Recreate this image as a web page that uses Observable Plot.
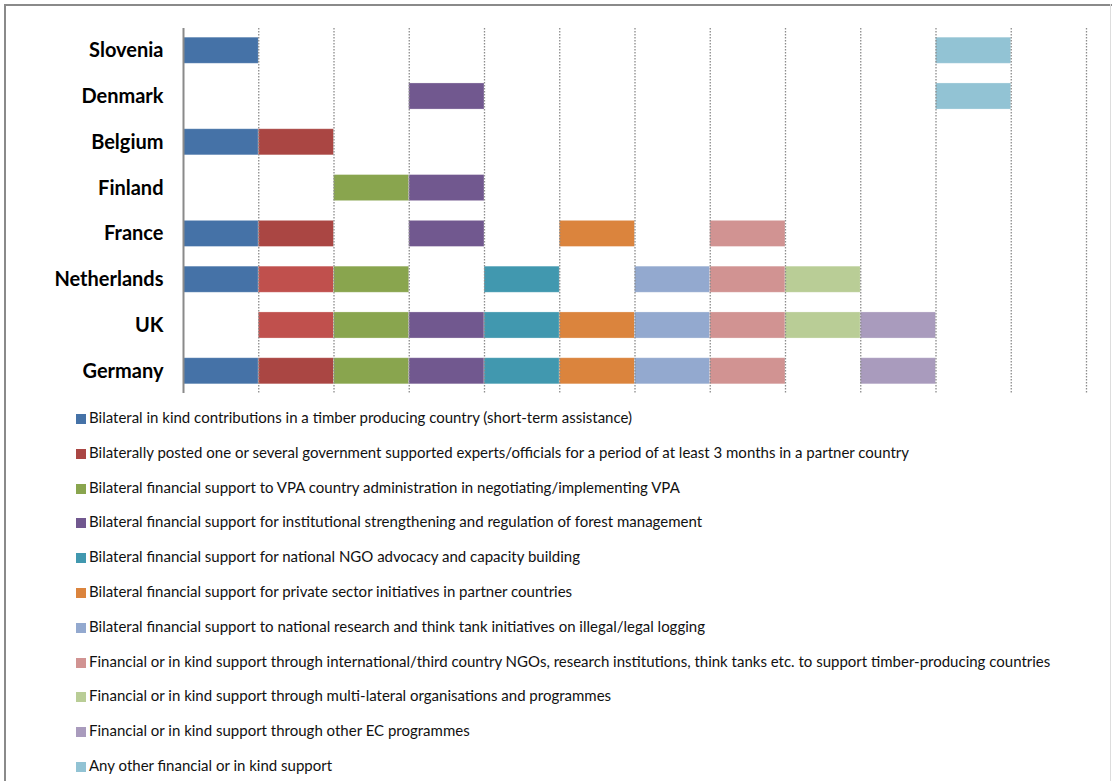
<!DOCTYPE html>
<html>
<head>
<meta charset="utf-8">
<script src="https://cdn.jsdelivr.net/npm/d3@7"></script>
<script src="https://cdn.jsdelivr.net/npm/@observablehq/plot@0.6"></script>
<style>
  html, body { margin: 0; padding: 0; background: #fff; }
  #frame { position: relative; width: 1112px; height: 781px; overflow: hidden; font-family: Lato, "Open Sans", sans-serif; }
  .edge { position: absolute; background: #8a8a8a; }
  #chart { position: absolute; left: 0; top: 0; }
  #legend { position: absolute; left: 76px; top: 0; }
  .item { position: absolute; left: 0; white-space: nowrap; font-size: 15px; color: #111; line-height: 16px; }
  .item span.sw { display: inline-block; width: 10px; height: 10px; margin-right: 3px; vertical-align: -1px; }
</style>
</head>
<body>
<div id="frame">
  <div class="edge" style="left:4px; top:4px; width:2px; height:777px;"></div>
  <div class="edge" style="left:4px; top:4px; width:1108px; height:2px;"></div>
  <div class="edge" style="left:1110px; top:4px; width:1px; height:777px; background:#ddd;"></div>
  <div id="chart"></div>
  <div id="legend"></div>
</div>
<script>
// Countries, top to bottom
const countries = ["Slovenia", "Denmark", "Belgium", "Finland", "France", "Netherlands", "UK", "Germany"];

// Types of support, one column each
const categories = [
  "Bilateral in kind contributions in a timber producing country (short-term assistance)",
  "Bilaterally posted one or several government supported experts/officials for a period of at least 3 months in a partner country",
  "Bilateral financial support to VPA country administration in negotiating/implementing VPA",
  "Bilateral financial support for institutional strengthening and regulation of forest management",
  "Bilateral financial support for national NGO advocacy and capacity building",
  "Bilateral financial support for private sector initiatives in partner countries",
  "Bilateral financial support to national research and think tank initiatives on illegal/legal logging",
  "Financial or in kind support through international/third country NGOs, research institutions, think tanks etc. to support timber-producing countries",
  "Financial or in kind support through multi-lateral organisations and programmes",
  "Financial or in kind support through other EC programmes",
  "Any other financial or in kind support"
];

const colors = ["#4572a7", "#aa4643", "#89a54e", "#71588f", "#4198af", "#db843d", "#93a9cf", "#d19392", "#b9cd96", "#a99bbd", "#92c3d4"];
// lighter red used on two of the rows
const lightRed = "#c0504d";
const lightRedRows = ["Netherlands", "UK"];

// 1 = support provided, 0 = none (one entry per category)
const slovenia    = [1, 0, 0, 0, 0, 0, 0, 0, 0, 0, 1];
const denmark     = [0, 0, 0, 1, 0, 0, 0, 0, 0, 0, 1];
const belgium     = [1, 1, 0, 0, 0, 0, 0, 0, 0, 0, 0];
const finland     = [0, 0, 1, 1, 0, 0, 0, 0, 0, 0, 0];
const france      = [1, 1, 0, 1, 0, 1, 0, 1, 0, 0, 0];
const netherlands = [1, 1, 1, 0, 1, 0, 1, 1, 1, 0, 0];
const uk          = [0, 1, 1, 1, 1, 1, 1, 1, 1, 1, 0];
const germany     = [1, 1, 1, 1, 1, 1, 1, 1, 0, 1, 0];

const rows = [slovenia, denmark, belgium, finland, france, netherlands, uk, germany];

const data = [];
countries.forEach((country, r) => {
  rows[r].forEach((v, i) => {
    if (v > 0) data.push({country, cat: i, value: v});
  });
});

const fillFor = d => (d.cat === 1 && lightRedRows.includes(d.country)) ? lightRed : colors[d.cat];

const chart = Plot.plot({
  width: 1112,
  height: 400,
  marginLeft: 183,
  marginRight: 26,
  marginTop: 28,
  marginBottom: 7,
  style: {fontFamily: "Lato, 'Open Sans', sans-serif", background: "transparent"},
  x: {domain: [0, 12], axis: null},
  y: {domain: countries, paddingInner: 0.43, paddingOuter: 0.2, round: false, axis: null},
  marks: [
    Plot.barX(data, {
      x1: "cat",
      x2: d => d.cat + d.value,
      y: "country",
      fill: fillFor,
      stroke: "#ffffff",
      strokeOpacity: 0.35,
      strokeWidth: 0.8
    }),
    Plot.ruleX(d3.range(1, 13), {stroke: "#8c8c8c", strokeWidth: 1.3, strokeDasharray: "1.5,1.5"}),
    Plot.ruleX([0], {stroke: "#8a8a8a", strokeWidth: 2}),
    Plot.axisY({
      tickSize: 0,
      tickPadding: 20,
      fontSize: 20,
      fontWeight: "bold",
      fill: "#000",
      label: null
    })
  ]
});
document.getElementById("chart").appendChild(chart);

// Legend, one line per category
const legend = document.getElementById("legend");
categories.forEach((label, i) => {
  const div = document.createElement("div");
  div.className = "item";
  div.style.top = (409 + i * 34.8) + "px";
  const sw = document.createElement("span");
  sw.className = "sw";
  sw.style.background = colors[i];
  div.appendChild(sw);
  div.appendChild(document.createTextNode(label));
  legend.appendChild(div);
});
</script>
</body>
</html>
